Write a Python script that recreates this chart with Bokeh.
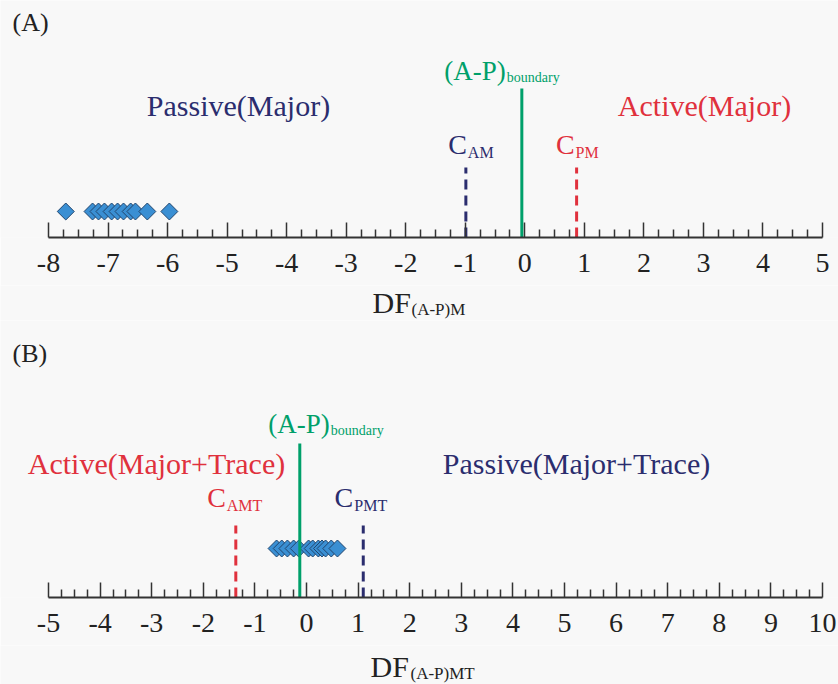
import numpy as np
from bokeh.plotting import figure
from bokeh.layouts import column
from bokeh.models import Range1d, FixedTicker, Label
from bokeh.embed import file_html
from bokeh.resources import INLINE

# ---- data ----
df_major = [-7.71, -7.26, -7.16, -7.06, -6.94, -6.84, -6.74, -6.62, -6.54, -6.34, -5.97]
df_major_trace = [-0.58, -0.48, -0.37, -0.25, -0.15, 0.04, 0.12, 0.23, 0.30, 0.37, 0.48, 0.60]
cut_a = {"C_AM": -0.99, "C_PM": 0.87, "boundary": -0.05}
cut_b = {"C_AMT": -1.37, "C_PMT": 1.10, "boundary": -0.13}
ticks_a = list(range(-8, 6))
ticks_b = list(range(-5, 11))
tick_labels_a = {t: str(t) for t in ticks_a}
tick_labels_b = {t: str(t) for t in ticks_b}

FONT = "Liberation Serif"
BG = "#f8f8f8"
NAVY = "#2b2d6e"
RED = "#e0313d"
GREEN = "#00a06a"
DFILL = "#3a8fd3"
DLINE = "#22466e"
AX = "#333333"
INK = "#222222"

W = 838
AX_L, AX_R = 48, 822   # pixel columns of first / last tick
AXIS_BORDER = 48
STANDOFF = 16


def xrange_for(ticks):
    t0, t1 = ticks[0], ticks[-1]
    s = (t1 - t0) / (AX_R - AX_L)
    return (t0 - AX_L * s, t1 + (W - AX_R) * s)


def px(xr, pxv):
    return xr[0] + pxv / W * (xr[1] - xr[0])


def make_panel(ticks, labels, frame_h):
    xr = xrange_for(ticks)
    p = figure(width=W, height=frame_h + AXIS_BORDER, x_range=Range1d(*xr),
               y_range=Range1d(0, frame_h), output_backend="svg", toolbar_location=None,
               title=None, y_axis_location=None, min_border_left=0, min_border_right=0,
               min_border_top=0, min_border_bottom=AXIS_BORDER)
    minor = [float(v) for v in np.arange(ticks[0], ticks[-1] + 0.001, 0.25)
             if abs(v - round(v)) > 1e-6]
    ax = p.xaxis[0]
    ax.bounds = (ticks[0], ticks[-1])
    ax.ticker = FixedTicker(ticks=ticks, minor_ticks=minor)
    ax.major_label_overrides = labels
    ax.major_tick_in = 15
    ax.major_tick_out = 0
    ax.minor_tick_in = 8
    ax.minor_tick_out = 0
    ax.axis_line_width = 2
    ax.axis_line_color = AX
    ax.major_tick_line_color = AX
    ax.minor_tick_line_color = AX
    ax.major_tick_line_width = 1.5
    ax.minor_tick_line_width = 1.5
    ax.major_label_text_font = FONT
    ax.major_label_text_font_size = "28px"
    ax.major_label_text_color = INK
    ax.major_label_standoff = STANDOFF
    p.grid.visible = False
    p.outline_line_color = None
    p.background_fill_color = BG
    p.border_fill_color = BG
    return p, xr


def make_strip(xr, h):
    p = figure(width=W, height=h, x_range=Range1d(*xr), y_range=Range1d(0, h),
               output_backend="svg", toolbar_location=None, title=None,
               x_axis_location=None, y_axis_location=None, min_border=0)
    p.grid.visible = False
    p.outline_line_color = None
    p.background_fill_color = BG
    p.border_fill_color = BG
    return p


def lab(p, x, y, text, size, color, align="left", x_offset=0):
    p.add_layout(Label(x=x, y=y, text=text, text_font=FONT, text_font_size=size,
                       text_color=color, text_align=align, text_baseline="middle",
                       x_offset=x_offset))


def vline(p, x, top, color, dash=None):
    kw = dict(line_color=color, line_width=3)
    if dash:
        kw["line_dash"] = dash
    p.segment(x0=[x], y0=[0], x1=[x], y1=[top], **kw)


# ---- panel A (frame: 0..237 px, axis at 237) ----
FA = 237
pa, xa = make_panel(ticks_a, tick_labels_a, FA)
pa.scatter(x=df_major, y=[26] * len(df_major), marker="square", angle=np.pi / 4, size=12,
           fill_color=DFILL, line_color=DLINE, line_width=1)
vline(pa, cut_a["C_AM"], 70, NAVY, "10 6")
vline(pa, cut_a["C_PM"], 70, RED, "10 6")
vline(pa, cut_a["boundary"], 149, GREEN)

lab(pa, px(xa, 12), FA - 22, "(A)", "26px", INK)
lab(pa, px(xa, 238), FA - 105, "Passive(Major)", "30px", NAVY, align="center")
lab(pa, px(xa, 704), FA - 105, "Active(Major)", "30px", RED, align="center")
lab(pa, cut_a["boundary"], FA - 70, "(A-P)", "27px", GREEN, align="right", x_offset=-16)
lab(pa, cut_a["boundary"], FA - 77, "boundary", "14px", GREEN, x_offset=-15)
lab(pa, cut_a["C_AM"], FA - 144, "C", "28px", NAVY, align="right", x_offset=1)
lab(pa, cut_a["C_AM"], FA - 152, "AM", "16px", NAVY, x_offset=2)
lab(pa, cut_a["C_PM"], FA - 144, "C", "28px", RED, align="right", x_offset=-2)
lab(pa, cut_a["C_PM"], FA - 152, "PM", "16px", RED, x_offset=-1)

# strip under panel A for the axis title
top_a = FA + AXIS_BORDER
SA = 320 - top_a
sa = make_strip(xa, SA)
lab(sa, px(xa, 372), SA - (302 - top_a), "DF", "30px", INK)
lab(sa, px(xa, 411), SA - (309 - top_a), "(A-P)M", "17px", INK)

# ---- panel B (abs y 320..597 frame, axis at 597) ----
FB = 277
OB = 320
pb, xb = make_panel(ticks_b, tick_labels_b, FB)
pb.scatter(x=df_major_trace, y=[49] * len(df_major_trace), marker="square", angle=np.pi / 4,
           size=12, fill_color=DFILL, line_color=DLINE, line_width=1)
vline(pb, cut_b["C_AMT"], 72, RED, "10 6")
vline(pb, cut_b["C_PMT"], 72, NAVY, "10 6")
vline(pb, cut_b["boundary"], 154, GREEN)


def yb(abs_y):
    return FB - (abs_y - OB)


lab(pb, px(xb, 12), yb(353), "(B)", "26px", INK)
lab(pb, px(xb, 156), yb(463), "Active(Major+Trace)", "30px", RED, align="center")
lab(pb, px(xb, 576), yb(463), "Passive(Major+Trace)", "30px", NAVY, align="center")
lab(pb, cut_b["boundary"], yb(423), "(A-P)", "27px", GREEN, align="right", x_offset=30)
lab(pb, cut_b["boundary"], yb(430), "boundary", "14px", GREEN, x_offset=31)
lab(pb, cut_b["C_AMT"], yb(497), "C", "28px", RED, align="right", x_offset=-10)
lab(pb, cut_b["C_AMT"], yb(505), "AMT", "16px", RED, x_offset=-9)
lab(pb, cut_b["C_PMT"], yb(497), "C", "28px", NAVY, align="right", x_offset=-10)
lab(pb, cut_b["C_PMT"], yb(505), "PMT", "16px", NAVY, x_offset=-9)

top_b = OB + FB + AXIS_BORDER
SB = 684 - top_b
sb = make_strip(xb, SB)
lab(sb, px(xb, 370), SB - (666 - top_b), "DF", "30px", INK)
lab(sb, px(xb, 410), SB - (673 - top_b), "(A-P)MT", "17px", INK)

layout = column(pa, sa, pb, sb, spacing=0)
open("out.html", "w").write(file_html(layout, INLINE))
